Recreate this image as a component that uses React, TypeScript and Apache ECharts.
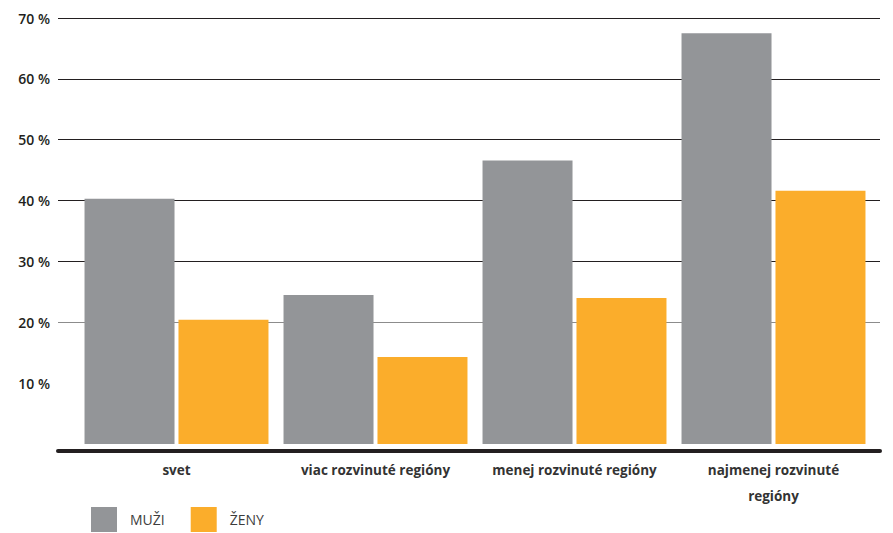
import React, { useEffect, useRef } from "react";
import * as echarts from "echarts";

const categories = ["svet", "viac rozvinuté regióny", "menej rozvinuté regióny", "najmenej rozvinuté\nregióny"];
const muzi = [40.3, 24.5, 46.6, 67.5];
const zeny = [20.4, 14.3, 24.0, 41.6];
const seriesNames = ["MUŽI", "ŽENY"];
const yTicks = [0, 10, 20, 30, 40, 50, 60, 70];

export default function App() {
  const ref = useRef<HTMLDivElement>(null);
  useEffect(() => {
    const chart = echarts.init(ref.current!, null, { renderer: "svg" });
    const top = 18;
    const bottom = 89;
    chart.setOption({
      animation: false,
      backgroundColor: "#ffffff",
      grid: [
        { left: 58, right: 13, top, bottom },
        { left: 77, right: 20, top, bottom },
      ],
      xAxis: [
        {
          gridIndex: 0,
          type: "value",
          min: 0,
          max: 1,
          position: "bottom",
          offset: 7,
          axisLine: { show: true, onZero: false, lineStyle: { color: "#231f20", width: 4 } },
          axisTick: { show: false },
          axisLabel: { show: false },
          splitLine: { show: false },
        },
        {
          gridIndex: 1,
          type: "category",
          data: categories,
          offset: 7,
          axisLine: { show: false },
          axisTick: { show: false },
          axisLabel: {
            margin: 6,
            color: "#333333",
            fontFamily: "Open Sans",
            fontWeight: "bold",
            fontSize: 13.5,
            lineHeight: 26,
            interval: 0,
          },
        },
      ],
      yAxis: [
        {
          gridIndex: 0,
          type: "value",
          min: yTicks[0],
          max: yTicks[yTicks.length - 1],
          interval: 10,
          axisLine: { show: false },
          axisTick: { show: false },
          axisLabel: {
            margin: 8,
            color: "#231f20",
            fontFamily: "Open Sans",
            fontWeight: 600,
            fontSize: 14,
            formatter: (v: number) => (v === 0 ? "" : v + " %"),
          },
          splitLine: {
            show: true,
            showMinLine: false,
            lineStyle: {
              width: 1,
              color: ["#ffffff", "#8c8c8c", "#231f20", "#231f20", "#231f20", "#231f20", "#231f20", "#231f20"],
            },
          },
        },
        {
          gridIndex: 1,
          type: "value",
          min: 0,
          max: 70,
          interval: 10,
          show: false,
          splitLine: { show: false },
        },
      ],
      legend: {
        left: 91,
        top: 507,
        padding: 0,
        icon: "rect",
        itemWidth: 26,
        itemHeight: 25,
        itemGap: 26,
        data: seriesNames,
        textStyle: {
          color: "#3d3d3d",
          fontFamily: "Open Sans",
          fontSize: 14,
          padding: [0, 0, 0, 8],
        },
      },
      series: [
        {
          name: seriesNames[0],
          type: "bar",
          xAxisIndex: 1,
          yAxisIndex: 1,
          data: muzi,
          barWidth: 90,
          barGap: "4.4%",
          itemStyle: { color: "#939598" },
        },
        {
          name: seriesNames[1],
          type: "bar",
          xAxisIndex: 1,
          yAxisIndex: 1,
          data: zeny,
          barWidth: 90,
          barGap: "4.4%",
          itemStyle: { color: "#fbad2b" },
        },
      ],
    });
    return () => chart.dispose();
  }, []);
  return <div ref={ref} style={{ width: 893, height: 533, position: "absolute", left: 0, top: 0 }} />;
}
